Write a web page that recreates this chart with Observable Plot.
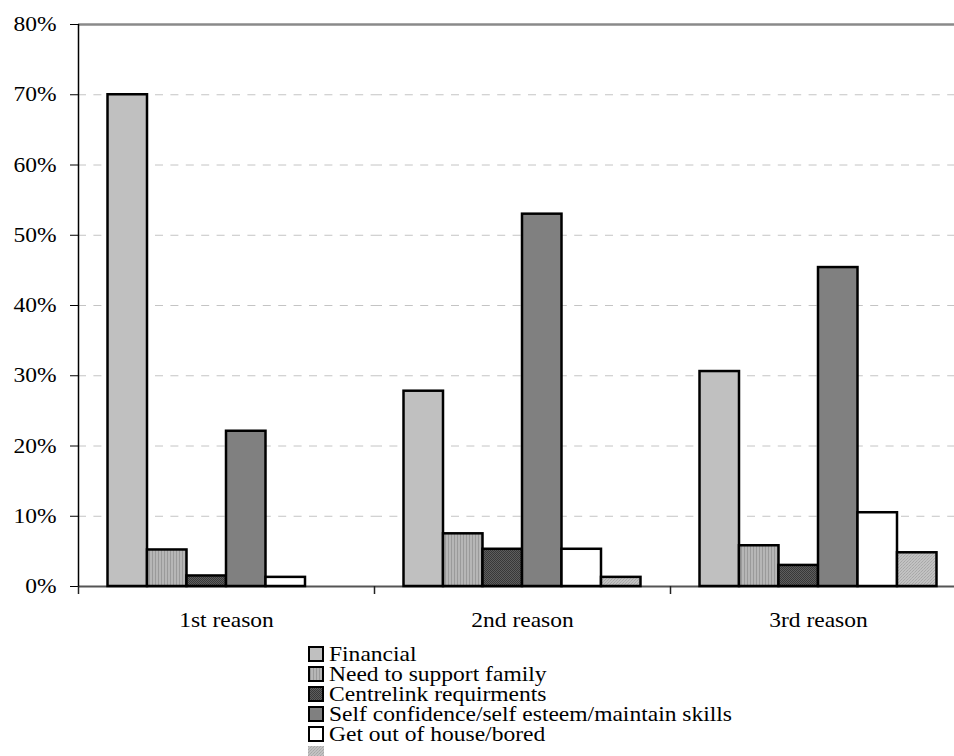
<!DOCTYPE html>
<html><head><meta charset="utf-8">
<script src="https://cdn.jsdelivr.net/npm/d3@7"></script>
<script src="https://cdn.jsdelivr.net/npm/@observablehq/plot@0.6"></script>
<style>
body{margin:0;background:#fff;}
#wrap{position:relative;width:954px;height:756px;overflow:hidden;background:#fff;font-family:"Liberation Serif","Times New Roman",serif;}
#wrap svg.plot{display:block;}
#legend{position:absolute;left:0;top:0;width:954px;height:756px;}
.row{position:absolute;left:308px;height:20px;line-height:20px;font-size:21px;white-space:nowrap;color:#000;}
.sw{position:absolute;left:0;top:2px;width:16px;height:16px;display:block}
.lbl{position:absolute;left:21px;top:0;transform:scaleX(1.12);transform-origin:0 0;}
</style></head><body><div id="wrap"></div>
<script>
// ---- data ----
const groups = ["1st reason", "2nd reason", "3rd reason"];
const series = ["Financial", "Need to support family", "Centrelink requirments",
  "Self confidence/self esteem/maintain skills", "Get out of house/bored", "Other"];
const legendLabels = ["Financial", "Need to support family", "Centrelink requirments",
  "Self confidence/self esteem/maintain skills", "Get out of house/bored", ""];
const financial  = [70.0, 27.8, 30.6];
const family     = [5.2, 7.5, 5.8];
const centrelink = [1.5, 5.3, 3.0];
const selfConf   = [22.1, 53.0, 45.4];
const getOut     = [1.3, 5.3, 10.5];
const other      = [null, 1.3, 4.8];
const yTicks = [0, 10, 20, 30, 40, 50, 60, 70, 80];
const gridTicks = [10, 20, 30, 40, 50, 60, 70];

const fills = ["#c0c0c0", "url(#pFamily)", "url(#pCentre)", "#808080", "#ffffff", "url(#pOther)"];

const seriesValues = [financial, family, centrelink, selfConf, getOut, other];
const data = [];
groups.forEach((g, gi) => series.forEach((s, si) => {
  const v = seriesValues[si][gi];
  if (v != null) data.push({group: g, series: s, value: v});
}));

// ---- layout ----
const W = 954, H = 640, ML = 78, MR = -12, MT = 24, MB = 54;
const pOuter = 0.747;
const facetW = (W - ML - MR) / groups.length;
const step = facetW / (series.length + 2 * pOuter);
const edgeDx = -(pOuter + 0.5) * step;

const chart = Plot.plot({
  width: W, height: H,
  marginLeft: ML, marginRight: MR, marginTop: MT, marginBottom: MB,
  style: {fontFamily: "'Liberation Serif', 'Times New Roman', serif", fontSize: "21px", background: "white", color: "black"},
  fx: {domain: groups, padding: 0, round: false, axis: "bottom", label: null, tickSize: 0, tickPadding: 26},
  x: {domain: series, axis: null, paddingInner: 0, paddingOuter: pOuter, round: false},
  y: {domain: [0, 80], ticks: yTicks, tickFormat: d => d + "%", tickSize: 8, tickPadding: 14, label: null},
  color: {domain: series, range: fills},
  marks: [
    Plot.ruleY(gridTicks, {stroke: "#c4c4c4", strokeWidth: 1, strokeDasharray: "8,7.4"}),
    Plot.ruleY([80], {stroke: "#8a8a8a", strokeWidth: 2.5}),
    Plot.ruleY([0], {stroke: "#555", strokeWidth: 2}),
    Plot.barY(data, {fx: "group", x: "series", y: "value", fill: "series", stroke: "black", strokeWidth: 2.5}),
    Plot.ruleX(groups, {fx: d => d, x: () => series[0], y1: 0, y2: 0, insetBottom: -8, dx: edgeDx, stroke: "#222", strokeWidth: 1.5}),
    Plot.ruleX([groups[0]], {fx: d => d, x: () => series[0], y1: 80, y2: 0, dx: edgeDx, stroke: "black", strokeWidth: 1.5})
  ]
});

// patterns
const NS = "http://www.w3.org/2000/svg";
const defs = document.createElementNS(NS, "defs");
defs.innerHTML =
  '<pattern id="pFamily" width="3" height="2" patternUnits="userSpaceOnUse">' +
    '<rect width="3" height="2" fill="#b6b6b6"/><rect x="2" width="1" height="2" fill="#9a9a9a"/></pattern>' +
  '<pattern id="pCentre" width="2" height="2" patternUnits="userSpaceOnUse">' +
    '<rect width="2" height="2" fill="#5e5e5e"/><rect width="1" height="1" fill="#383838"/><rect x="1" y="1" width="1" height="1" fill="#383838"/></pattern>' +
  '<pattern id="pOther" width="3" height="3" patternUnits="userSpaceOnUse">' +
    '<rect width="3" height="3" fill="#c2c2c2"/><rect width="1" height="1" fill="#a8a8a8"/><rect x="2" y="1" width="1" height="1" fill="#a8a8a8"/><rect x="1" y="2" width="1" height="1" fill="#b0b0b0"/></pattern>';
chart.insertBefore(defs, chart.firstChild);

// horizontal widening of the serif text, as in the reference
chart.querySelectorAll("text").forEach(t => {
  const tr = t.getAttribute("transform") || "";
  t.setAttribute("transform", tr + " scale(1.12,1)");
});

const wrap = document.getElementById("wrap");
wrap.appendChild(chart);

// legend
const legend = document.createElement("div");
legend.id = "legend";
legendLabels.forEach((lab, i) => {
  const row = document.createElement("div");
  row.className = "row";
  row.style.top = (644 + i * 20) + "px";
  const last = i === legendLabels.length - 1;
  const sw = document.createElementNS(NS, "svg");
  sw.setAttribute("class", "sw");
  sw.setAttribute("width", 16); sw.setAttribute("height", 16);
  const r = document.createElementNS(NS, "rect");
  if (last) {
    r.setAttribute("x", 0); r.setAttribute("y", 0); r.setAttribute("width", 16); r.setAttribute("height", 16);
  } else {
    r.setAttribute("x", 1); r.setAttribute("y", 1); r.setAttribute("width", 14); r.setAttribute("height", 14);
    r.setAttribute("stroke", "black"); r.setAttribute("stroke-width", 2);
  }
  r.setAttribute("fill", fills[i]);
  sw.appendChild(r);
  row.appendChild(sw);
  if (lab) {
    const l = document.createElement("span");
    l.className = "lbl";
    l.textContent = lab;
    row.appendChild(l);
  }
  legend.appendChild(row);
});
wrap.appendChild(legend);
</script>
</body></html>
